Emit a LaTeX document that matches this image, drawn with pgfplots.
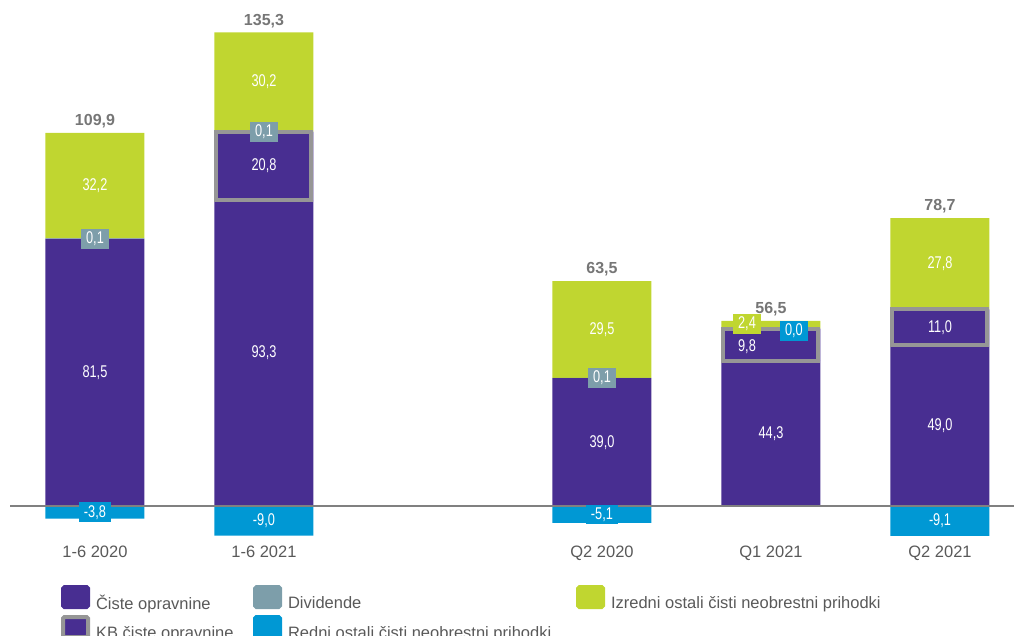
\documentclass[border=0pt]{standalone}
\usepackage{pgfplots}
\pgfplotsset{compat=1.18}
\usepackage{fontspec}
\setmainfont{Liberation Sans}
\newfontfamily\narrowfont[FakeStretch=0.75]{Liberation Sans}
\definecolor{cPurple}{RGB}{72,46,145}
\definecolor{cGreen}{RGB}{192,214,48}
\definecolor{cTeal}{RGB}{125,158,170}
\definecolor{cBlue}{RGB}{0,152,212}
\definecolor{cBorder}{RGB}{150,150,150}
\definecolor{cText}{RGB}{89,89,89}
\definecolor{cTot}{RGB}{118,118,118}
\definecolor{cLine}{RGB}{128,128,128}
\pgfplotsset{
  base/.style={width=1014pt, height=635pt, scale only axis,
    xmin=-0.562, xmax=5.438, ymin=-39.3, ymax=154.3,
    hide axis, clip=false},
}
\tikzset{
  vlab/.style={font=\narrowfont\fontsize{17}{17}\selectfont, text=white, inner xsep=5pt, inner ysep=3pt},
  tot/.style={font=\bfseries\fontsize{16}{16}\selectfont, text=cTot, anchor=base, inner sep=0pt, yshift=7.3pt},
  cat/.style={font=\fontsize{16.5}{16.5}\selectfont, text=cText, anchor=base, inner sep=0pt},
}
\begin{document}
\begin{tikzpicture}
% stacked positive parts
\begin{axis}[base, ybar stacked, bar width=99pt]
\addplot[fill=cPurple, draw=none] coordinates {(0,81.5) (1,93.3) (3,39.0) (4,44.3) (5,49.0)};
\addplot[fill=cPurple, draw=none] coordinates {(0,0) (1,20.8) (3,0) (4,9.8) (5,11.0)};
\addplot[fill=cTeal, draw=none] coordinates {(0,0.1) (1,0.1) (3,0.1) (4,0) (5,0)};
\addplot[fill=cGreen, draw=none] coordinates {(0,32.2) (1,30.2) (3,29.5) (4,2.4) (5,27.8)};
\end{axis}
% KB borders
\begin{axis}[base, ybar stacked, bar width=95pt]
\addplot[fill=none, draw=none] coordinates {(1,93.3) (4,44.3) (5,49.0)};
\addplot[fill=cPurple, draw=cBorder, line width=4pt] coordinates {(1,20.8) (4,9.8) (5,11.0)};
\end{axis}
% negative part
\begin{axis}[base, ybar, bar width=99pt]
\addplot[fill=cBlue, draw=none] coordinates {(0,-3.8) (1,-9.0) (3,-5.1) (4,0.0) (5,-9.1)};
\end{axis}
% baseline, labels, legend
\begin{axis}[base, name=ax,
  legend image code/.code={\draw[#1, line width=4pt, rounded corners=1.5pt] (2pt,-4pt) rectangle (27pt,16pt);},
  legend columns=3, legend cell align=left,
  legend style={at={(0.0602,0.0787)}, anchor=north west, draw=none, fill=none,
    inner sep=0pt, outer sep=0pt, column sep=6pt, row sep=4pt,
    nodes={inner sep=0pt}, font=\fontsize{16.5}{16.5}\selectfont, text=cText},
]
\addlegendimage{draw=cPurple, fill=cPurple}
\addlegendentry{\makebox[151pt][l]{Čiste opravnine}}
\addlegendimage{draw=cTeal, fill=cTeal}
\addlegendentry{\makebox[282pt][l]{Dividende}}
\addlegendimage{draw=cGreen, fill=cGreen}
\addlegendentry{Izredni ostali čisti neobrestni prihodki}
\addlegendimage{draw=cBorder, fill=cPurple}
\addlegendentry{\makebox[151pt][l]{KB čiste opravnine}}
\addlegendimage{draw=cBlue, fill=cBlue}
\addlegendentry{\makebox[282pt][l]{Redni ostali čisti neobrestni prihodki}}

\draw[cLine, line width=2pt] (axis cs:-0.5,0) -- (axis cs:5.438,0);

% Ciste opravnine
\node[vlab] at (axis cs:0,40.75) {81,5};
\node[vlab] at (axis cs:1,46.65) {93,3};
\node[vlab] at (axis cs:3,19.5) {39,0};
\node[vlab] at (axis cs:4,22.15) {44,3};
\node[vlab] at (axis cs:5,24.5) {49,0};
% KB
\node[vlab] at (axis cs:1,103.7) {20,8};
\node[vlab] at (axis cs:3.858,48.5) {9,8};
\node[vlab] at (axis cs:5,54.5) {11,0};
% Dividende
\node[vlab, fill=cTeal] at (axis cs:0,81.55) {0,1};
\node[vlab, fill=cTeal] at (axis cs:1,114.15) {0,1};
\node[vlab, fill=cTeal] at (axis cs:3,39.05) {0,1};
% Izredni
\node[vlab] at (axis cs:0,97.7) {32,2};
\node[vlab] at (axis cs:1,129.3) {30,2};
\node[vlab] at (axis cs:3,53.85) {29,5};
\node[vlab] at (axis cs:5,73.9) {27,8};
\node[vlab, fill=cGreen] at (axis cs:3.858,55.5) {2,4};
% Redni
\node[vlab, fill=cBlue] at (axis cs:0,-1.9) {-3,8};
\node[vlab] at (axis cs:1,-4.5) {-9,0};
\node[vlab, fill=cBlue] at (axis cs:3,-2.55) {-5,1};
\node[vlab, fill=cBlue] at (axis cs:4.136,53.35) {0,0};
\node[vlab] at (axis cs:5,-4.55) {-9,1};
% totals
\node[tot] at (axis cs:0,113.8) {109,9};
\node[tot] at (axis cs:1,144.4) {135,3};
\node[tot] at (axis cs:3,68.6) {63,5};
\node[tot] at (axis cs:4,56.5) {56,5};
\node[tot] at (axis cs:5,87.8) {78,7};
% categories
\node[cat] at (axis cs:0,-15.55) {1-6 2020};
\node[cat] at (axis cs:1,-15.55) {1-6 2021};
\node[cat] at (axis cs:3,-15.55) {Q2 2020};
\node[cat] at (axis cs:4,-15.55) {Q1 2021};
\node[cat] at (axis cs:5,-15.55) {Q2 2021};
\end{axis}
\pgfresetboundingbox
\path[use as bounding box] (ax.south west) rectangle (ax.north east);
\end{tikzpicture}
\end{document}
